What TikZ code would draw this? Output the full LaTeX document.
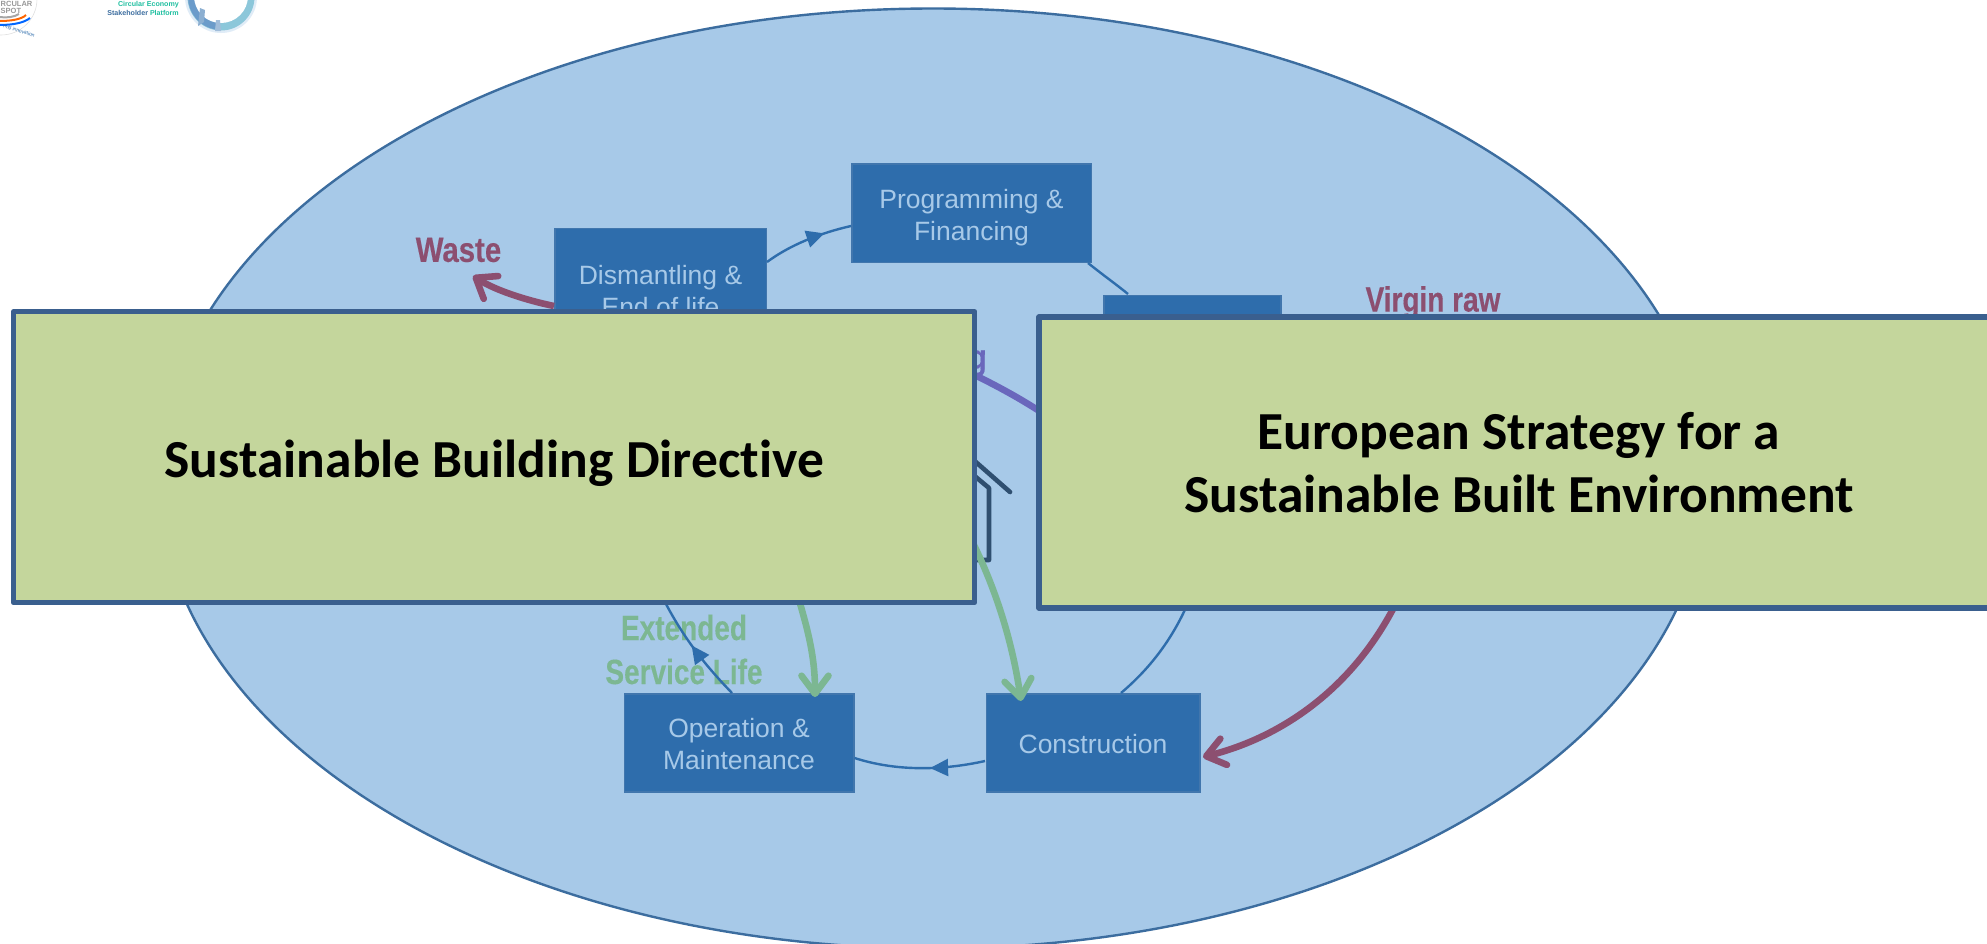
\documentclass[tikz,border=0pt]{standalone}
\usepackage{fontspec}
\setmainfont{Liberation Sans}
\newfontfamily\condfont[FakeStretch=0.84,FakeBold=0.3]{Liberation Sans Bold}
\newfontfamily\condfontb[FakeStretch=0.80,FakeBold=0.3]{Liberation Sans Bold}
\newfontfamily\greenfont[Ligatures=NoCommon]{Carlito}
\usetikzlibrary{arrows.meta,decorations.markings,shapes.geometric}
\definecolor{ellfill}{HTML}{A7C9E8}
\definecolor{elledge}{HTML}{3C6D9F}
\definecolor{boxfill}{HTML}{2E6DAC}
\definecolor{boxedge}{HTML}{4176AD}
\definecolor{boxtext}{HTML}{A7C9E8}
\definecolor{wine}{HTML}{8C4F70}
\definecolor{sage}{HTML}{7CB792}
\definecolor{violet}{HTML}{6A67BC}
\definecolor{greenbox}{HTML}{C4D69C}
\definecolor{greenedge}{HTML}{3A5F8E}
\definecolor{houseline}{HTML}{2F4F70}
\definecolor{teal}{HTML}{1FBFA0}
\tikzset{
  x=1pt,y=-1pt,
  stage/.style={draw=boxedge,line width=1.5pt,fill=boxfill,text=boxtext,align=center,inner sep=0pt,
    font=\fontsize{26.5}{32}\selectfont},
  cycle/.style={draw=boxfill,line width=2.4pt},
  tipmark/.style={postaction={decorate},decoration={markings,mark=at position #1 with {\arrow{Triangle[length=18pt,width=17pt]}}}},
  flow/.style={line width=6.6pt,-{Straight Barb[length=18pt,width=27pt,round]}},
  plate/.style={draw=greenedge,line width=5.3pt,fill=greenbox,align=center,inner sep=0pt,line join=round,
    font=\greenfont\bfseries\fontsize{53.5}{63}\selectfont},
  flowlabel/.style={font=\condfont\fontsize{35}{42}\selectfont,inner sep=0pt,align=center},
  flowlabelb/.style={font=\condfontb\fontsize{35}{42}\selectfont,inner sep=0pt,align=center}
}
\begin{document}
\begin{tikzpicture}
\useasboundingbox (0,0) rectangle (1987,943);
\clip (0,0) rectangle (1987,943);
\fill[white] (0,0) rectangle (1987,943);
% logos
\begin{scope}
  \node[draw=black!12,line width=.6pt,circle,minimum size=72pt,inner sep=0pt] (logoa) at (1,-1) {};
  \node[font=\bfseries\fontsize{7.5}{7.5}\selectfont,text=black!40,anchor=west,inner sep=0pt] (logoat) at (0.5,3.6) {RCULAR};
  \node[font=\bfseries\fontsize{7.5}{7.5}\selectfont,text=black!40,anchor=west,inner sep=0pt] (logoas) at (0.5,10.5) {SPOT};
  \draw[black!35,line width=2pt] (0,17) .. controls (8,18) and (14,17) .. (19,14);
  \draw[orange!80!red,line width=2pt] (0,21) .. controls (12,21) and (22,19) .. (26,15);
  \draw[blue!60!cyan,line width=2pt] (0,25) .. controls (12,25) and (24,23) .. (30,18);
  \node[font=\fontsize{5}{5}\selectfont,text=boxfill,inner sep=0pt,rotate=-18] (logoar) at (19,31) {ring innovation};
  \node[font=\bfseries\fontsize{7.1}{7.1}\selectfont,text=teal,anchor=east,inner sep=0pt] (logob) at (179,4.5) {Circular Economy};
  \node[font=\bfseries\fontsize{7.1}{7.1}\selectfont,anchor=east,inner sep=0pt] (logoc) at (179,12.5) {\textcolor{elledge}{Stakeholder} \textcolor{teal}{Platform}};
  \fill[ellfill!35!white] (221,-3) circle (36);
  \fill[ellfill!80!teal] (221,-3) circle (33.5);
  \draw[boxfill!50!ellfill,line width=7pt] (221,-3) ++(100:29.5) arc (100:180:29.5);
  \fill[white] (221,-4) circle (27);
  \fill[boxfill!55!white] (200,8) -- (198,26) -- (204,22) -- (205,10) -- cycle;
  \fill[boxfill!45!white] (216,20) -- (215,31) -- (221,31) -- (220,20) -- cycle;
\end{scope}
% ellipse
\node[draw=elledge,line width=2.4pt,fill=ellfill,ellipse,inner sep=0pt,minimum width=1548pt,minimum height=940pt] (oval) at (933,478.5) {};
% labels
\node[flowlabel,text=wine] (wastel) at (458.5,250) {Waste};
\node[flowlabelb,text=wine,anchor=north] (virgin) at (1433,286) {Virgin raw};
\node[flowlabel,text=violet,anchor=east] (recy) at (987,360) {Recycling};
\node[flowlabelb,text=sage,align=center] (ext) at (684,649.5) {Extended\\[2pt]Service Life};
% stages
\node[stage,minimum width=239.5pt,minimum height=98.5pt] (prog) at (971.5,213.3) {\rule{0pt}{27pt}Programming \&\\Financing};
\node[stage,minimum width=211.5pt,minimum height=125pt] (dism) at (660.5,291) {Dismantling \&\\End of life};
\node[stage,minimum width=177pt,minimum height=98pt] (dsgn) at (1192.5,344.5) {};
\node[stage,minimum width=229.5pt,minimum height=98pt] (oper) at (739,743) {\rule{0pt}{21.5pt}Operation \&\\Maintenance};
\node[stage,minimum width=213.5pt,minimum height=98pt] (cons) at (1093,743) {\rule{0pt}{21.5pt}Construction};
% cycle connectors
\coordinate (c1) at (767,262);
\coordinate (c2) at (851,226);
\coordinate (c3) at (1088,263);
\coordinate (c4) at (1128,294);
\coordinate (c5) at (1200,570);
\coordinate (c6) at (1121,693);
\coordinate (c7) at (985,761);
\coordinate (c8) at (854.5,758);
\coordinate (c9) at (732,693);
\coordinate (c10) at (650,570);
\draw[cycle,tipmark=0.7] (c1) .. controls (790,245) and (820,233) .. (c2);
\draw[cycle] (c3) .. controls (1103,275) and (1117,285) .. (c4);
\draw[cycle] (c5) .. controls (1185,620) and (1160,660) .. (c6);
\draw[cycle,tipmark=0.42] (c7) .. controls (940,771) and (895,771) .. (c8);
\draw[cycle,tipmark=0.42] (c9) .. controls (705,665) and (675,630) .. (c10);
% house fragment
\coordinate (h1) at (965,452.5);
\coordinate (h2) at (1010,492);
\coordinate (h3) at (965,468);
\coordinate (h4) at (989,488);
\coordinate (h5) at (989,560);
\coordinate (h6) at (965,560);
\draw[houseline,line width=4.6pt,line cap=round] (h1) -- (h2);
\draw[houseline,line width=4.6pt,line join=round] (h3) -- (h4) -- (h5) -- (h6);
% flows
\coordinate (w0) at (554,306);
\coordinate (w1) at (473,276);
\coordinate (p0) at (960,368);
\coordinate (p1) at (1060,425);
\coordinate (g1) at (790,570);
\coordinate (g1e) at (815,697);
\coordinate (g2) at (955,510);
\coordinate (g2e) at (1021,701);
\coordinate (r1) at (1400,595);
\coordinate (r1e) at (1203,757);
\draw[flow,wine] (w0) .. controls (525,300) and (495,290) .. (w1);
\draw[flow,violet,-] (p0) .. controls (990,382) and (1025,400) .. (p1);
\draw[flow,sage] (g1) .. controls (805,620) and (815,650) .. (g1e);
\draw[flow,sage] (g2) .. controls (985,560) and (1010,625) .. (g2e);
\draw[flow,wine] (r1) .. controls (1360,680) and (1290,735) .. (r1e);
% plates
\node[plate,minimum width=961pt,minimum height=291pt] (sbd) at (494.1,457.2) {\rule{0pt}{49pt}Sustainable Building Directive};
\node[plate,minimum width=960pt,minimum height=291pt] (esb) at (1519,462.4) {European Strategy for a\\Sustainable Built Environment};
\end{tikzpicture}
\end{document}
